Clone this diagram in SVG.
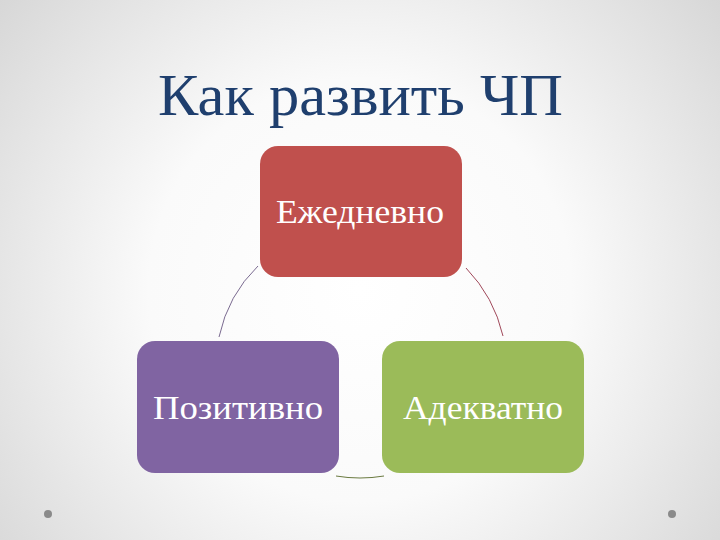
<svg xmlns="http://www.w3.org/2000/svg" width="720" height="540" viewBox="0 0 720 540">
  <defs>
    <radialGradient id="bg" cx="360" cy="290" r="470" gradientUnits="userSpaceOnUse">
      <stop offset="0" stop-color="#ffffff"/>
      <stop offset="0.45" stop-color="#fafafa"/>
      <stop offset="1" stop-color="#d6d6d6"/>
    </radialGradient>
  </defs>
  <style>
    .title { font-family: "Liberation Serif", "DejaVu Serif", serif; font-size: 60px; fill: #1f3f6e; }
    .lbl { font-family: "Liberation Serif", "DejaVu Serif", serif; font-size: 34px; fill: #ffffff; text-anchor: middle; }
    .conn { fill: none; stroke-width: 1; }
    .dot { fill: #8a8a8a; }
  </style>
  <rect x="0" y="0" width="720" height="540" fill="url(#bg)"/>
  <text class="title" x="158" y="115" textLength="405" lengthAdjust="spacingAndGlyphs">Как развить ЧП</text>
  <g id="connectors">
    <path class="conn" stroke="#7a6a90" d="M258,266 Q228,295 219,337"/>
    <path class="conn" stroke="#a0485a" d="M466,268 Q494,297 503,336"/>
    <path class="conn" stroke="#6a7a40" d="M336,476 Q360,480 384,476"/>
  </g>
  <g id="node-daily">
    <rect x="260" y="146" width="202" height="131" rx="18" fill="#c0504d"/>
    <text class="lbl" x="360" y="223" textLength="168" lengthAdjust="spacingAndGlyphs">Ежедневно</text>
  </g>
  <g id="node-positive">
    <rect x="137" y="341" width="202" height="132" rx="18" fill="#8064a2"/>
    <text class="lbl" x="238" y="419" textLength="170" lengthAdjust="spacingAndGlyphs">Позитивно</text>
  </g>
  <g id="node-adequate">
    <rect x="382" y="341" width="202" height="132" rx="18" fill="#9bbb59"/>
    <text class="lbl" x="483" y="419" textLength="160" lengthAdjust="spacingAndGlyphs">Адекватно</text>
  </g>
  <circle class="dot" cx="48" cy="514" r="4"/>
  <circle class="dot" cx="672" cy="514" r="4"/>
</svg>
